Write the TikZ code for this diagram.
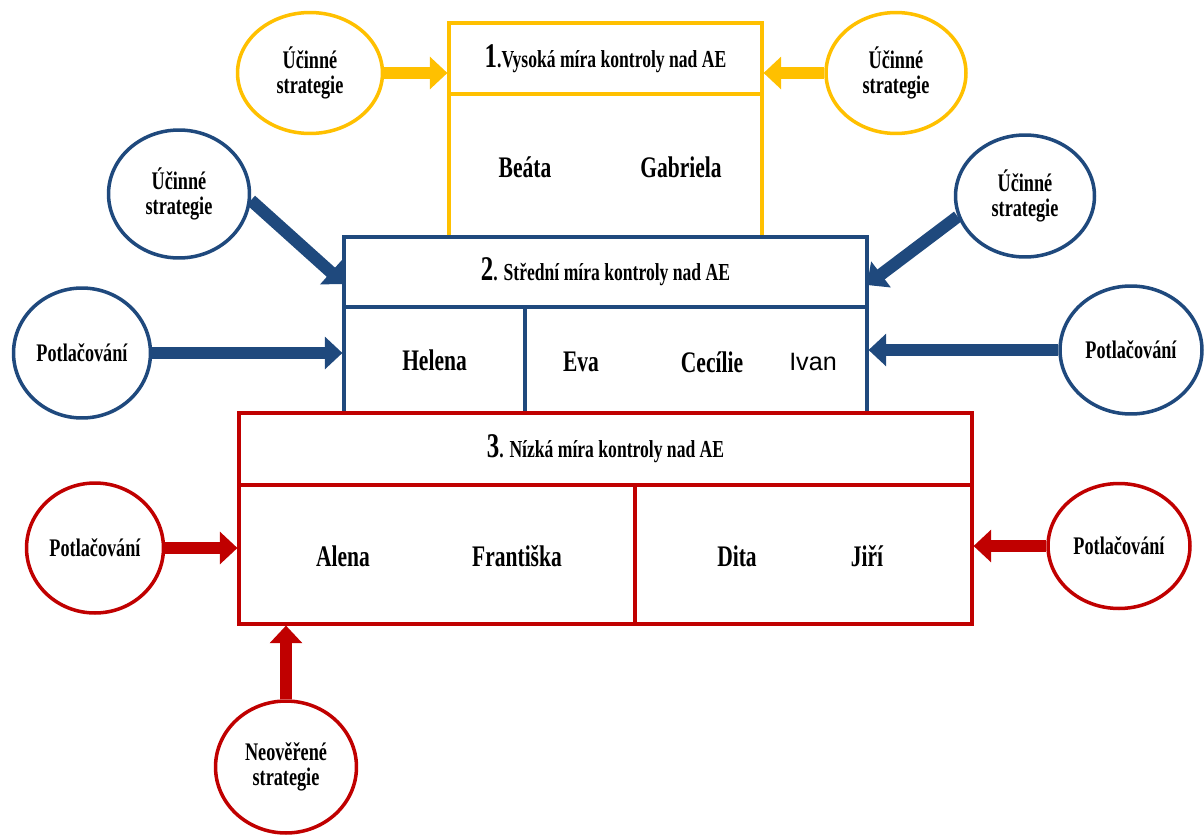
\documentclass[tikz,border=0pt]{standalone}
\usepackage{fontspec}
\setmainfont{Liberation Serif}[FakeStretch=0.72]
\newfontfamily\ivanfont{Liberation Sans}
\usetikzlibrary{shapes.geometric,arrows.meta}
\definecolor{ylw}{HTML}{FFC000}
\definecolor{blu}{HTML}{1F497D}
\definecolor{rd}{HTML}{C00000}
\newcommand{\levelnum}[1]{{\fontsize{19.7}{20}\selectfont #1}}

\begin{document}
\begin{tikzpicture}[x=0.02cm, y=-0.02cm,
  every node/.style={font=\bfseries\fontsize{17}{20}\selectfont},
  cell/.style={draw, line width=1.8pt, fill=white, inner sep=0pt},
  head/.style={cell, font=\bfseries\fontsize{13.9}{16}\selectfont},
  oval/.style={draw, ellipse, line width=2pt, fill=white, inner sep=0pt,
    minimum width=2.8cm, minimum height=2.56cm, align=center,
    font=\bfseries\fontsize{14.4}{14.6}\selectfont},
  arr/.style={line width=7pt, -{Triangle[length=10pt, width=18pt]}}]
  \useasboundingbox (0,0) rectangle (1204,835);
  % level 1
  \node[cell, draw=ylw, minimum width=6.26cm, minimum height=2.86cm] (body1) at (605.5,165.5) {};
  \node[head, draw=ylw, minimum width=6.26cm, minimum height=1.42cm] (head1) at (605.5,58.5) {\levelnum{1}.Vysoká míra kontroly nad AE};
  \node at (525,167) {Beáta};
  \node at (681,167) {Gabriela};
  % level 2
  \node[head, draw=blu, minimum width=10.46cm, minimum height=1.4cm] (head2) at (605.5,272) {\levelnum{2}. Střední míra kontroly nad AE};
  \node[cell, draw=blu, minimum width=3.62cm, minimum height=2.12cm] (body2a) at (434.5,360) {Helena};
  \node[cell, draw=blu, minimum width=6.84cm, minimum height=2.12cm] (body2b) at (696,360) {};
  \node at (581,362) {Eva};
  \node at (712,362) {Cecílie};
  \node[font=\ivanfont\fontsize{14.3}{16}\selectfont] at (813,362) {Ivan};
  % level 3
  \node[head, draw=rd, minimum width=14.66cm, minimum height=1.44cm] (head3) at (605.5,449) {\levelnum{3}. Nízká míra kontroly nad AE};
  \node[cell, draw=rd, minimum width=7.92cm, minimum height=2.78cm] (body3a) at (437,554.5) {};
  \node[cell, draw=rd, minimum width=6.74cm, minimum height=2.78cm] (body3b) at (803.5,554.5) {};
  \node at (343,556) {Alena};
  \node at (517,556) {Františka};
  \node at (737,556) {Dita};
  \node at (867,556) {Jiří};
  % strategies
  \node[oval, draw=ylw, minimum width=2.9cm, minimum height=2.42cm] (effL1) at (310,73) {Účinné\\strategie};
  \node[oval, draw=ylw, minimum width=2.8cm, minimum height=2.42cm] (effR1) at (896,73) {Účinné\\strategie};
  \node[oval, draw=blu, minimum width=2.82cm] (effL2) at (179,194) {Účinné\\strategie};
  \node[oval, draw=blu, minimum width=2.78cm, minimum height=2.44cm] (effR2) at (1025,196) {Účinné\\strategie};
  \node[oval, draw=blu, minimum width=2.74cm, minimum height=2.6cm] (supL2) at (82,353) {Potlačování};
  \node[oval, draw=blu, minimum width=2.84cm] (supR2) at (1131,350) {Potlačování};
  \node[oval, draw=rd, minimum width=2.74cm, minimum height=2.6cm] (supL3) at (95,548) {Potlačování};
  \node[oval, draw=rd, minimum width=2.84cm, minimum height=2.5cm] (supR3) at (1119,546) {Potlačování};
  \node[oval, draw=rd, minimum width=2.82cm, minimum height=2.64cm] (unv3) at (286,767) {Neověřené\\strategie};
  \coordinate (tipL2) at (344,284);
  \coordinate (tipR2) at (867,285);
  % arrows
  \draw[arr, ylw] (effL1) -- (effL1 -| head1.west);
  \draw[arr, ylw] (effR1) -- (effR1 -| head1.east);
  \draw[arr, blu] (effL2.-5) -- (tipL2);
  \draw[arr, blu] (effR2.197) -- (tipR2);
  \draw[arr, blu] (supL2) -- (supL2 -| body2a.west);
  \draw[arr, blu] (supR2) -- (supR2 -| body2b.east);
  \draw[arr, rd] (supL3) -- (supL3 -| body3a.west);
  \draw[arr, rd] (supR3) -- (supR3 -| body3b.east);
  \draw[arr, rd] (unv3) -- (unv3 |- body3a.south);
\end{tikzpicture}
\end{document}
